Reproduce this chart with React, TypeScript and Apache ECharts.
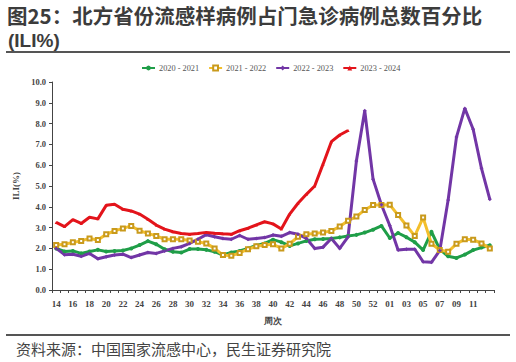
import React, { useEffect, useRef } from "react";
import * as echarts from "echarts";

const weeks = [
  "14","15","16","17","18","19","20","21","22","23","24","25","26","27","28","29","30","31","32","33",
  "34","35","36","37","38","39","40","41","42","43","44","45","46","47","48","49","50","51","52","53",
  "01","02","03","04","05","06","07","08","09","10","11","12","13",
];

const s2020 = [
  2.0, 1.85, 1.88, 1.76, 1.85, 1.93, 1.85, 1.88, 1.9, 2.0, 2.16, 2.35, 2.2, 1.96, 1.84, 1.8, 1.97, 1.97, 1.93, 1.84,
  1.68, 1.8, 1.88, 2.0, 2.14, 2.24, 2.42, 2.3, 2.12, 2.24, 2.36, 2.44, 2.45, 2.48, 2.53, 2.6, 2.65, 2.76, 2.9, 3.08,
  2.5, 2.74, 2.54, 2.3, 1.92, 2.8, 1.95, 1.62, 1.54, 1.7, 1.92, 2.04, 2.15,
];

const s2021 = [
  2.16, 2.2, 2.29, 2.36, 2.48, 2.4, 2.68, 2.84, 2.96, 3.08, 2.85, 2.72, 2.6, 2.44, 2.44, 2.44, 2.38, 2.32, 2.24, 2.0,
  1.68, 1.65, 1.78, 1.96, 2.1, 2.16, 2.2, 2.0, 2.22, 2.56, 2.68, 2.72, 2.77, 2.84, 3.05, 3.33, 3.53, 3.85, 4.09, 4.09,
  4.1, 3.6, 3.1, 2.6, 3.48, 2.22, 1.92, 1.84, 2.22, 2.44, 2.42, 2.24, 2.0,
];

const s2022 = [
  2.0, 1.7, 1.72, 1.62, 1.76, 1.5, 1.6, 1.68, 1.72, 1.56, 1.68, 1.8, 1.76, 1.88, 2.0, 2.08, 2.24, 2.44, 2.66, 2.56,
  2.48, 2.44, 2.62, 2.44, 2.48, 2.52, 2.64, 2.58, 2.76, 2.68, 2.48, 2.0, 2.06, 2.48, 2.0, 2.56, 6.2, 8.62, 5.33, 4.1,
  3.1, 1.92, 1.96, 1.96, 1.36, 1.33, 1.9, 4.33, 7.35, 8.73, 7.73, 5.85, 4.36,
];

const s2023 = [
  3.25, 3.05, 3.38, 3.2, 3.5, 3.42, 4.07, 4.12, 3.88, 3.8, 3.65, 3.4, 3.12, 2.93, 2.8, 2.72, 2.68, 2.72, 2.77, 2.73,
  2.7, 2.68, 2.85, 2.97, 3.13, 3.28, 3.18, 2.93, 3.65, 4.17, 4.6, 5.0, 6.05, 7.13, 7.45, 7.67,
];

const seriesNames = ["2020 - 2021", "2021 - 2022", "2022 - 2023", "2023 - 2024"];

const titleLine1 = "图25：北方省份流感样病例占门急诊病例总数百分比";
const titleLine2 = "(ILI%)";
const sourceText = "资料来源：中国国家流感中心，民生证券研究院";
const yName = "ILI(%)";
const xName = "周次";

const SERIF = "'Liberation Serif', 'Times New Roman', serif";
const SANS = "'Noto Sans CJK SC', 'Noto Sans', sans-serif";
const LATIN_SANS = "'Liberation Sans', Arial, sans-serif";

export default function App() {
  const ref = useRef<HTMLDivElement>(null);

  useEffect(() => {
    document.body.style.margin = "0";
    const chart = echarts.init(ref.current!, null, { renderer: "svg" });
    const green = "#1f9e48";
    const yellow = "#f3bf2c";
    const purple = "#7236a6";
    const red = "#e3141b";

    chart.setOption({
      animation: false,
      backgroundColor: "#ffffff",
      graphic: [
        {
          type: "text",
          left: 7,
          top: 2.5,
          style: {
            text: titleLine1,
            fontFamily: SANS,
            fontSize: 20.5,
            fontWeight: "bold",
            lineHeight: 25,
            fill: "#3c3c3c",
          },
        },
        {
          type: "text",
          left: 8,
          top: 31,
          style: {
            text: titleLine2,
            fontFamily: LATIN_SANS,
            fontSize: 19,
            fontWeight: "bold",
            lineHeight: 19,
            fill: "#3c3c3c",
          },
        },
        {
          type: "rect",
          shape: { x: 6, y: 51, width: 504, height: 2 },
          style: { fill: "#555555" },
        },
        {
          type: "rect",
          shape: { x: 6, y: 334, width: 504, height: 2 },
          style: { fill: "#555555" },
        },
        {
          type: "text",
          left: 16,
          top: 341,
          style: { text: sourceText, font: `15px ${SANS}`, fill: "#444444" },
        },
      ],
      legend: {
        top: 64,
        left: 141,
        padding: 0,
        itemWidth: 13,
        itemHeight: 6,
        itemGap: 9,
        textStyle: { fontFamily: SERIF, fontSize: 8.3, color: "#555", padding: [0, 0, 0, -1] },
        data: seriesNames,
      },
      grid: { left: 52, right: 22, top: 82, bottom: 72, containLabel: false },
      xAxis: {
        type: "category",
        data: weeks,
        boundaryGap: true,
        name: xName,
        nameLocation: "middle",
        nameGap: 26,
        nameTextStyle: { fontFamily: SERIF, fontSize: 9, fontWeight: "bold", color: "#444" },
        axisLine: { lineStyle: { color: "#444", width: 1 } },
        axisTick: { show: true, interval: 0, alignWithLabel: false, length: 3, lineStyle: { color: "#444" } },
        axisLabel: {
          interval: (i: number) => i % 2 === 0 && i < 52,
          fontFamily: SERIF,
          fontSize: 9,
          fontWeight: "bold",
          color: "#444",
          margin: 9,
        },
        splitLine: { show: false },
      },
      yAxis: {
        type: "value",
        min: 0,
        max: 10,
        interval: 1,
        name: yName,
        nameLocation: "middle",
        nameRotate: 90,
        nameGap: 28,
        nameTextStyle: { fontFamily: SERIF, fontSize: 9, fontWeight: "bold", color: "#444" },
        axisLine: { show: true, lineStyle: { color: "#444", width: 1 } },
        axisTick: { show: true, length: 3, lineStyle: { color: "#444" } },
        axisLabel: {
          formatter: (v: number) => v.toFixed(1),
          fontFamily: SERIF,
          fontSize: 8.5,
          fontWeight: "bold",
          color: "#444",
          margin: 6,
        },
        splitLine: { show: false },
      },
      series: [
        {
          name: seriesNames[0],
          type: "line",
          data: s2020,
          symbol: "circle",
          symbolSize: 4,
          itemStyle: { color: green },
          lineStyle: { color: green, width: 3 },
        },
        {
          name: seriesNames[1],
          type: "line",
          data: s2021,
          symbol: "emptyRect",
          symbolSize: 4,
          itemStyle: { color: "#c99a1c", borderWidth: 0.8 },
          lineStyle: { color: yellow, width: 3 },
        },
        {
          name: seriesNames[2],
          type: "line",
          data: s2022,
          symbol: "diamond",
          symbolSize: 4,
          itemStyle: { color: purple },
          lineStyle: { color: purple, width: 3 },
        },
        {
          name: seriesNames[3],
          type: "line",
          data: s2023,
          symbol: "triangle",
          symbolSize: 3,
          itemStyle: { color: red },
          lineStyle: { color: red, width: 3 },
        },
      ],
    });
    return () => chart.dispose();
  }, []);

  return <div ref={ref} style={{ width: 516, height: 362 }} />;
}
